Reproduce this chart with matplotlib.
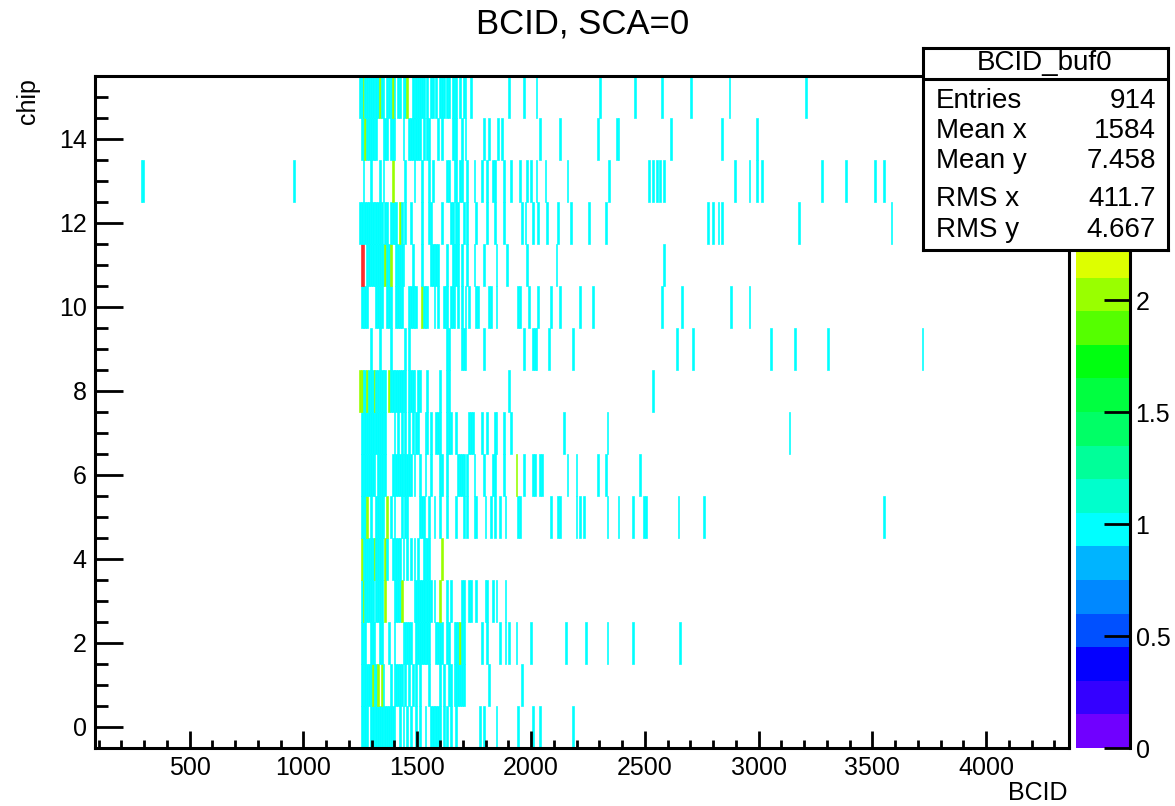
import numpy as np
import matplotlib
matplotlib.use("Agg")
import matplotlib.pyplot as plt
from matplotlib.colors import ListedColormap, Normalize
from matplotlib.cm import ScalarMappable
from matplotlib.ticker import MultipleLocator

plt.rcParams['font.family'] = ['Liberation Sans', 'DejaVu Sans']

# ---- data: BCID of each hit, one list per chip (repeated value = several hits in one bin)
BCID_CHIP_00 = [1256, 1264, 1272, 1280, 1293, 1301, 1309, 1317, 1325, 1333, 1341, 1352, 1360, 1367,
                1375, 1383, 1391, 1403, 1425, 1440, 1455, 1470, 1499, 1514, 1536, 1558, 1566, 1574,
                1582, 1590, 1602, 1616, 1631, 1646, 1668, 1778, 1793, 1844, 1940, 2006, 2042, 2182]
BCID_CHIP_01 = [1252, 1260, 1268, 1276, 1284, 1292, 1301, 1301, 1309, 1317, 1325, 1331, 1340, 1340,
                1352, 1381, 1396, 1404, 1412, 1420, 1433, 1447, 1462, 1477, 1492, 1514, 1550, 1602,
                1616, 1638, 1646, 1660, 1675, 1683, 1691, 1699, 1707, 1815, 1962]
BCID_CHIP_02 = [1256, 1264, 1272, 1293, 1301, 1309, 1337, 1345, 1374, 1403, 1440, 1448, 1456, 1464,
                1472, 1492, 1506, 1514, 1522, 1530, 1538, 1546, 1554, 1587, 1595, 1603, 1611, 1628,
                1638, 1660, 1668, 1676, 1684, 1684, 1692, 1705, 1785, 1807, 1866, 1888, 1903, 1937,
                1998, 2148, 2241, 2333, 2451, 2656]
BCID_CHIP_03 = [1256, 1264, 1264, 1272, 1280, 1288, 1296, 1304, 1323, 1331, 1339, 1347, 1359, 1359,
                1396, 1404, 1412, 1420, 1428, 1428, 1484, 1492, 1500, 1508, 1516, 1524, 1532, 1540,
                1548, 1556, 1572, 1602, 1602, 1628, 1646, 1693, 1705, 1727, 1735, 1756, 1800, 1808,
                1829, 1844, 1888]
BCID_CHIP_04 = [1252, 1252, 1261, 1271, 1279, 1287, 1295, 1303, 1315, 1315, 1323, 1331, 1339, 1347,
                1359, 1359, 1367, 1389, 1397, 1405, 1413, 1421, 1440, 1455, 1470, 1484, 1506, 1528,
                1536, 1544, 1552, 1609, 1609]
BCID_CHIP_05 = [1256, 1264, 1272, 1281, 1281, 1293, 1323, 1331, 1339, 1347, 1355, 1364, 1364, 1381,
                1403, 1433, 1447, 1455, 1511, 1519, 1528, 1550, 1572, 1602, 1631, 1668, 1705, 1719,
                1749, 1763, 1800, 1822, 1840, 1866, 1888, 1940, 1948, 2086, 2123, 2131, 2197, 2219,
                2233, 2333, 2380, 2446, 2498, 2506, 2645, 2759, 3552]
BCID_CHIP_06 = [1252, 1260, 1268, 1276, 1284, 1292, 1300, 1308, 1330, 1338, 1346, 1354, 1362, 1389,
                1397, 1405, 1413, 1421, 1429, 1437, 1445, 1453, 1461, 1470, 1484, 1514, 1536, 1558,
                1602, 1610, 1631, 1683, 1691, 1699, 1707, 1719, 1749, 1793, 1829, 1840, 1878, 1937,
                1937, 1966, 2006, 2016, 2039, 2050, 2160, 2201, 2292, 2329, 2476]
BCID_CHIP_07 = [1252, 1260, 1268, 1276, 1284, 1292, 1300, 1308, 1320, 1328, 1336, 1344, 1352, 1359,
                1396, 1418, 1433, 1447, 1462, 1477, 1492, 1506, 1536, 1546, 1558, 1580, 1594, 1602,
                1628, 1638, 1646, 1668, 1727, 1736, 1746, 1785, 1807, 1837, 1845, 1881, 1913, 2142,
                2333, 3132]
BCID_CHIP_08 = [1249, 1249, 1257, 1257, 1265, 1273, 1281, 1281, 1289, 1297, 1305, 1313, 1313, 1321,
                1329, 1339, 1347, 1355, 1363, 1372, 1372, 1381, 1390, 1398, 1406, 1414, 1422, 1430,
                1440, 1450, 1460, 1470, 1480, 1490, 1500, 1514, 1540, 1602, 1628, 1638, 1903, 2539]
BCID_CHIP_09 = [1293, 1338, 1387, 1447, 1464, 1629, 1638, 1695, 1704, 1712, 1793, 1970, 2006, 2016,
                2026, 2083, 2185, 2637, 2715, 3053, 3158, 3305, 3719]
BCID_CHIP_10 = [1256, 1264, 1272, 1281, 1320, 1328, 1337, 1345, 1367, 1375, 1383, 1411, 1419, 1427,
                1435, 1462, 1470, 1478, 1486, 1494, 1516, 1516, 1531, 1539, 1547, 1572, 1590, 1616,
                1625, 1634, 1646, 1654, 1663, 1682, 1693, 1712, 1731, 1756, 1764, 1815, 1823, 1848,
                1940, 1951, 1991, 2031, 2086, 2130, 2219, 2273, 2579, 2662, 2880, 2960]
BCID_CHIP_11 = [1257, 1257, 1257, 1265, 1265, 1265, 1278, 1286, 1294, 1302, 1310, 1318, 1326, 1334,
                1342, 1350, 1357, 1357, 1367, 1376, 1384, 1384, 1411, 1419, 1427, 1435, 1443, 1477,
                1516, 1558, 1566, 1574, 1582, 1590, 1631, 1653, 1663, 1672, 1682, 1697, 1719, 1751,
                1793, 1848, 1892, 1984, 2113, 2583]
BCID_CHIP_12 = [1249, 1257, 1265, 1273, 1281, 1289, 1297, 1305, 1313, 1323, 1331, 1339, 1347,
                1363, 1371, 1387, 1395, 1403, 1411, 1422, 1422, 1433, 1447, 1469, 1516, 1550,
                1558, 1609, 1646, 1656, 1672, 1682, 1704, 1716, 1763, 1810, 1837, 1881, 1962, 1976,
                2010, 2035, 2072, 2116, 2175, 2255, 2324, 2776, 2798, 2823, 2838, 3177, 3581]
BCID_CHIP_13 = [284, 292, 963, 1261, 1296, 1337, 1348, 1389, 1389, 1447, 1484, 1516, 1555, 1569,
                1631, 1641, 1663, 1672, 1687, 1697, 1716, 1749, 1785, 1807, 1829, 1840, 1881, 1910,
                1954, 1984, 1998, 2020, 2060, 2163, 2344, 2520, 2535, 2549, 2564, 2586, 2894, 2960,
                2994, 3016, 3279, 3383, 3511, 3555]
BCID_CHIP_14 = [1256, 1264, 1272, 1272, 1280, 1288, 1296, 1304, 1312, 1320, 1348, 1356, 1364, 1381,
                1389, 1396, 1437, 1466, 1474, 1482, 1490, 1498, 1506, 1513, 1531, 1540, 1550, 1594,
                1605, 1653, 1661, 1669, 1699, 1708, 1793, 1819, 1854, 1875, 2036, 2130, 2292, 2378,
                2386, 2618, 2843, 2989]
BCID_CHIP_15 = [1246, 1254, 1264, 1264, 1272, 1281, 1290, 1298, 1306, 1314, 1322, 1330, 1338, 1338,
                1346, 1354, 1364, 1374, 1384, 1393, 1393, 1403, 1414, 1425, 1436, 1447, 1458, 1458,
                1477, 1485, 1493, 1501, 1509, 1521, 1529, 1540, 1558, 1569, 1584, 1602, 1610, 1619,
                1631, 1643, 1653, 1663, 1675, 1687, 1702, 1712, 1738, 1907, 1969, 2020, 2306, 2456,
                2574, 2700, 2874, 3207]

CHIP_HITS = [BCID_CHIP_00, BCID_CHIP_01, BCID_CHIP_02, BCID_CHIP_03, BCID_CHIP_04, BCID_CHIP_05,
             BCID_CHIP_06, BCID_CHIP_07, BCID_CHIP_08, BCID_CHIP_09, BCID_CHIP_10, BCID_CHIP_11,
             BCID_CHIP_12, BCID_CHIP_13, BCID_CHIP_14, BCID_CHIP_15]

STATS_NAME = "BCID_buf0"
STATS_LABELS = ["Entries", "Mean x", "Mean y", "RMS x", "RMS y"]
STATS_VALUES = ["914", "1584", "7.458", "411.7", "4.667"]

TITLE = "BCID, SCA=0"
X_TITLE = "BCID"
Y_TITLE = "chip"

# histogram binning and axis ranges
X_MIN, X_MAX, BIN_W = 84, 4364, 8
Z_MAX = 3.0
Z_TICKS = [0, 0.5, 1, 1.5, 2, 2.5]
Z_TICK_LABELS = ['0', '0.5', '1', '1.5', '2', '2.5']

# rainbow palette, 20 contour colours from violet to red
PALETTE = ['#7000ff', '#3400ff', '#0400ff', '#0050ff', '#0088ff', '#00b4ff', '#00ffff',
           '#00ffcc', '#00ff99', '#00ff66', '#00ff40', '#00ff10', '#55ff00', '#99ff00',
           '#ddff00', '#ffee00', '#ffbb00', '#ff8800', '#ff5500', '#ff2a2a']

W, H = 1175, 806
fig = plt.figure(figsize=(W / 100, H / 100), dpi=100)


def fx(px):
    return px / W


def fy(py):
    return 1 - py / H


ax = fig.add_axes([fx(95), fy(748), fx(1069 - 95), (748 - 76) / H])
cax = fig.add_axes([fx(1076), fy(748), fx(1130 - 1076), (748 - 76) / H])

xs = np.concatenate([np.asarray(h, float) for h in CHIP_HITS])
ys = np.concatenate([np.full(len(h), i, float) for i, h in enumerate(CHIP_HITS)])
xedges = np.arange(X_MIN, X_MAX + BIN_W, BIN_W)
yedges = np.arange(-0.5, len(CHIP_HITS), 1.0)
counts, _, _ = np.histogram2d(xs, ys, bins=[xedges, yedges])
counts = np.ma.masked_equal(counts.T, 0)

cmap = ListedColormap(PALETTE)
norm = Normalize(0, Z_MAX)
ax.pcolormesh(xedges, yedges, counts, cmap=cmap, norm=norm, shading='flat',
              antialiased=True, edgecolors='face', linewidth=0.45)

ax.set_xlim(X_MIN, X_MAX)
ax.set_ylim(-0.5, 15.5)
for s in ax.spines.values():
    s.set_linewidth(2.2)
    s.set_zorder(5)
ax.xaxis.set_major_locator(MultipleLocator(500))
ax.xaxis.set_minor_locator(MultipleLocator(100))
ax.yaxis.set_major_locator(MultipleLocator(2))
ax.yaxis.set_minor_locator(MultipleLocator(0.5))
ax.tick_params(axis='both', which='both', direction='in', top=False, right=False,
               width=2, labelsize=18)
ax.tick_params(axis='x', which='major', length=12, pad=6)
ax.tick_params(axis='x', which='minor', length=6)
ax.tick_params(axis='y', which='major', length=20, pad=6)
ax.tick_params(axis='y', which='minor', length=9.5)

# palette axis
cb = fig.colorbar(ScalarMappable(norm=norm, cmap=cmap), cax=cax)
cb.outline.set_visible(False)
cb.set_ticks(Z_TICKS)
cb.set_ticklabels(Z_TICK_LABELS)
cax.tick_params(axis='y', which='both', direction='in', length=19, width=2,
                labelsize=18, pad=4, right=True, left=False)
cax.plot([1, 1], [0, 1], transform=cax.transAxes, color='black', lw=2.2, clip_on=False)

fig.text(fx(583), fy(24), TITLE, ha='center', va='center', fontsize=25)
fig.text(fx(1068), fy(793), X_TITLE, ha='right', va='center', fontsize=18)
fig.text(fx(28), fy(78), Y_TITLE, rotation=90, ha='center', va='top', fontsize=18)

# statistics box, drawn over the palette axis
sax = fig.add_axes([fx(923), fy(250), fx(1168 - 923), (250 - 48) / H], zorder=10)
sax.set_xlim(0, 245)
sax.set_ylim(202, 0)
sax.set_xticks([])
sax.set_yticks([])
sax.set_facecolor('white')
for s in sax.spines.values():
    s.set_linewidth(2.2)
sax.plot([0, 245], [31, 31], color='black', lw=2.2)
sax.text(122, 15.5, STATS_NAME, ha='center', va='center', fontsize=20)
row_y = [53, 83, 113, 151, 182]
for yy, lab, val in zip(row_y, STATS_LABELS, STATS_VALUES):
    sax.text(13, yy, lab, ha='left', va='center', fontsize=20)
    sax.text(233, yy, val, ha='right', va='center', fontsize=20)

fig.savefig("out.png", dpi=100)
